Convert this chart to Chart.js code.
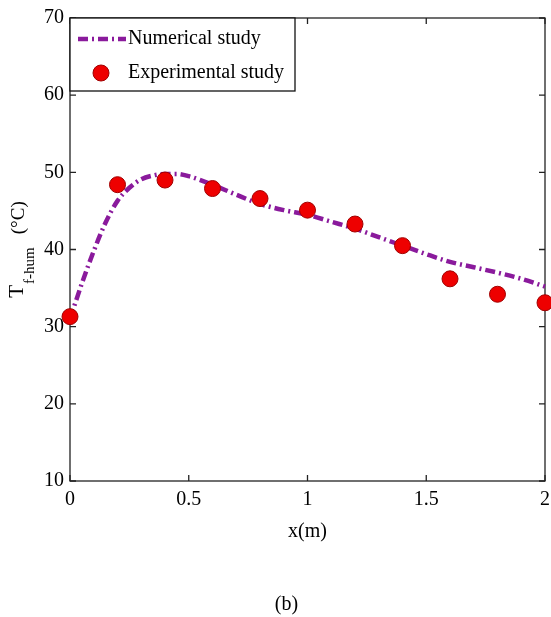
<!DOCTYPE html>
<html>
<head>
<meta charset="utf-8">
<script src="https://cdn.jsdelivr.net/npm/chart.js@4.4.1/dist/chart.umd.min.js"></script>
<style>
  html, body { margin: 0; padding: 0; background: #fff; }
  #wrap { width: 551px; height: 617px; }
</style>
</head>
<body>
<div id="wrap"><canvas id="chart" width="551" height="617"></canvas></div>
<script>
// numerical curve
const numX = [0, 0.05, 0.1, 0.15, 0.2, 0.25, 0.3, 0.35, 0.4, 0.45, 0.5, 0.6, 0.7, 0.8, 0.9, 1.0, 1.1, 1.2, 1.3, 1.4, 1.5, 1.6, 1.7, 1.8, 1.9, 2.0];
const numY = [31.0, 35.6, 39.8, 43.5, 46.3, 48.0, 49.1, 49.6, 49.8, 49.8, 49.5, 48.4, 47.1, 45.9, 45.1, 44.5, 43.6, 42.7, 41.6, 40.5, 39.4, 38.4, 37.7, 37.0, 36.2, 35.2];

// experimental points
const expX = [0, 0.2, 0.4, 0.6, 0.8, 1.0, 1.2, 1.4, 1.6, 1.8, 2.0];
const expY = [31.3, 48.4, 49.0, 47.9, 46.6, 45.1, 43.3, 40.5, 36.2, 34.2, 33.1];

const xTicks = [0, 0.5, 1, 1.5, 2];
const yTicks = [10, 20, 30, 40, 50, 60, 70];
const seriesLabels = ["Numerical study", "Experimental study"];
const xTitle = "x(m)";
const yTitleMain = "T";
const yTitleSub = "f-hum";
const yTitleUnit = "(°C)";
const panelLabel = "(b)";

const serif = '"Liberation Serif", "Times New Roman", serif';
const lineColor = "#8a1a9c";
const dash = [10, 4, 2, 4];

Chart.defaults.font.family = serif;
Chart.defaults.color = "#000";

// box around the axes with inward ticks, drawn under the data
const framePlugin = {
  id: "frame",
  beforeDatasetsDraw(chart) {
    const { ctx, chartArea: a, scales } = chart;
    ctx.save();
    ctx.strokeStyle = "#222";
    ctx.lineWidth = 1.3;
    ctx.strokeRect(a.left, a.top, a.right - a.left, a.bottom - a.top);
    const tl = 6;
    ctx.beginPath();
    xTicks.forEach((v) => {
      const px = scales.x.getPixelForValue(v);
      ctx.moveTo(px, a.bottom); ctx.lineTo(px, a.bottom - tl);
      ctx.moveTo(px, a.top); ctx.lineTo(px, a.top + tl);
    });
    yTicks.forEach((v) => {
      const py = scales.y.getPixelForValue(v);
      ctx.moveTo(a.left, py); ctx.lineTo(a.left + tl, py);
      ctx.moveTo(a.right, py); ctx.lineTo(a.right - tl, py);
    });
    ctx.stroke();
    ctx.restore();
  },
};

// matlab-like legend box in the upper left, plus the y title with subscript
const overlayPlugin = {
  id: "overlay",
  afterDatasetsDraw(chart) {
    const { ctx, chartArea: a } = chart;
    ctx.save();
    // legend box
    const bx = a.left, by = a.top, bw = 225, bh = 73;
    ctx.fillStyle = "#fff";
    ctx.fillRect(bx, by, bw, bh);
    ctx.strokeStyle = "#111";
    ctx.lineWidth = 1.3;
    ctx.strokeRect(bx, by, bw, bh);

    const ds = chart.data.datasets;
    ctx.strokeStyle = ds[0].borderColor;
    ctx.lineWidth = ds[0].borderWidth;
    ctx.setLineDash(dash);
    ctx.beginPath();
    ctx.moveTo(bx + 8, by + 21);
    ctx.lineTo(bx + 56, by + 21);
    ctx.stroke();
    ctx.setLineDash([]);

    ctx.fillStyle = ds[1].backgroundColor;
    ctx.strokeStyle = ds[1].borderColor;
    ctx.lineWidth = 1;
    ctx.beginPath();
    ctx.arc(bx + 31, by + 55, 8, 0, Math.PI * 2);
    ctx.fill();
    ctx.stroke();

    ctx.fillStyle = "#000";
    ctx.font = "20px " + serif;
    ctx.textBaseline = "middle";
    ctx.textAlign = "left";
    ctx.fillText(ds[0].label, bx + 58, by + 21);
    ctx.fillText(ds[1].label, bx + 58, by + 55);

    // y axis title, rotated
    const yc = (a.top + a.bottom) / 2;
    ctx.translate(23, yc);
    ctx.rotate(-Math.PI / 2);
    ctx.textBaseline = "alphabetic";
    const fMain = "21px " + serif, fSub = "15px " + serif, fUnit = "19px " + serif;
    ctx.font = fMain; const wT = ctx.measureText(yTitleMain).width;
    ctx.font = fSub; const wS = ctx.measureText(yTitleSub).width;
    ctx.font = fUnit; const wU = ctx.measureText(yTitleUnit).width;
    const gap = 13;
    let tx = -(wT + 1 + wS + gap + wU) / 2;
    ctx.font = fMain; ctx.fillText(yTitleMain, tx, 0); tx += wT + 1;
    ctx.font = fSub; ctx.fillText(yTitleSub, tx, 11); tx += wS + gap;
    ctx.font = fUnit; ctx.fillText(yTitleUnit, tx, 1);
    ctx.restore();
  },
};

new Chart(document.getElementById("chart"), {
  type: "scatter",
  data: {
    datasets: [
      {
        label: seriesLabels[0],
        data: numX.map((x, i) => ({ x, y: numY[i] })),
        showLine: true,
        borderColor: lineColor,
        backgroundColor: lineColor,
        borderWidth: 4.5,
        borderDash: dash,
        pointRadius: 0,
        cubicInterpolationMode: "monotone",
        clip: false,
        order: 2,
      },
      {
        label: seriesLabels[1],
        data: expX.map((x, i) => ({ x, y: expY[i] })),
        backgroundColor: "#ee0000",
        borderColor: "#a00000",
        borderWidth: 1,
        pointRadius: 8,
        pointHoverRadius: 8,
        clip: false,
        order: 1,
      },
    ],
  },
  options: {
    responsive: false,
    animation: false,
    events: [],
    layout: { autoPadding: false, padding: { left: 28, right: 6, top: 18, bottom: 0 } },
    plugins: {
      legend: { display: false },
      tooltip: { enabled: false },
      title: {
        display: true,
        position: "bottom",
        text: panelLabel,
        color: "#000",
        font: { size: 20, weight: "normal", family: serif },
        padding: { top: 47, bottom: 0 },
      },
    },
    scales: {
      x: {
        type: "linear",
        min: 0,
        max: 2,
        afterBuildTicks: (s) => { s.ticks = xTicks.map((v) => ({ value: v })); },
        afterFit: (s) => { s.height = 65; s.paddingLeft = 0; s.paddingRight = 0; },
        grid: { display: false, drawTicks: false },
        border: { display: false },
        ticks: { padding: 7, maxRotation: 0, font: { size: 20 }, color: "#000", callback: (v) => String(v) },
        title: { display: true, text: xTitle, color: "#000", font: { size: 20 }, padding: { top: 0, bottom: 2 } },
      },
      y: {
        min: 10,
        max: 70,
        afterBuildTicks: (s) => { s.ticks = yTicks.map((v) => ({ value: v })); },
        afterFit: (s) => { s.width = 42; s.paddingTop = 0; s.paddingBottom = 0; },
        grid: { display: false, drawTicks: false },
        border: { display: false },
        ticks: { padding: 6, font: { size: 20 }, color: "#000" },
      },
    },
  },
  plugins: [framePlugin, overlayPlugin],
});
</script>
</body>
</html>
